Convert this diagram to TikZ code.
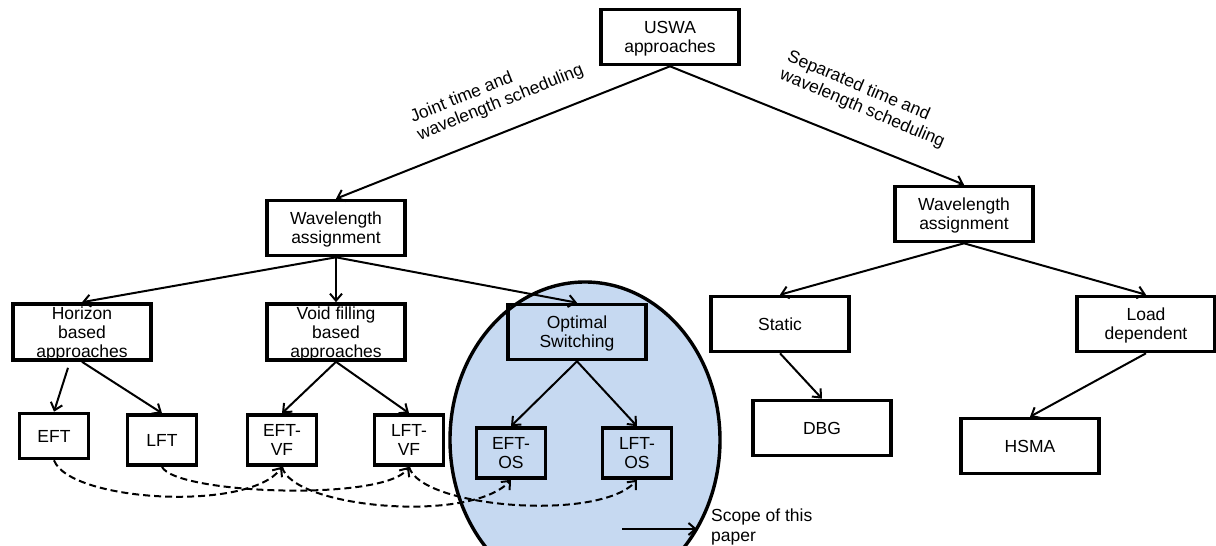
\documentclass[tikz,border=0pt]{standalone}
\usepackage{fontspec}
\setmainfont{Liberation Sans}
\usepackage{tikz}
\usetikzlibrary{arrows.meta,calc}
\definecolor{scopefill}{HTML}{C6D9F1}
\tikzset{
  box/.style={draw, line width=3.6pt, align=center, inner sep=0pt, text depth=0pt, minimum width=138pt, minimum height=55pt},
  sbox/.style={box, minimum width=69pt, minimum height=50pt},
  tribox/.style={box, fill=white, text depth=-2.5pt, minimum height=56pt},
  arr/.style={line width=2pt, -{Straight Barb[length=7pt,width=12pt]}},
  darr/.style={arr, dash pattern=on 7pt off 4pt},
  lab/.style={align=left, inner sep=0pt},
  every node/.style={font=\fontsize{17.5}{19.2}\selectfont}
}
\begin{document}
\begin{tikzpicture}[x=1pt,y=-1pt]
  \useasboundingbox (0,0) rectangle (1216,546);

  % scope of the paper
  \draw[fill=scopefill, line width=3.4pt] (585,440) ellipse [x radius=135, y radius=158];

  \node[box, fill=white] (uswa) at (670,37) {USWA\\approaches};
  \node[box, fill=white] (wal) at (336,228) {Wavelength\\assignment};
  \node[box, fill=white] (war) at (964,214) {Wavelength\\assignment};

  \node[tribox] (hor) at (82,332) {Horizon\\based\\approaches};
  \node[tribox] (void) at (336,332) {Void filling\\based\\approaches};
  \node[box] (opt) at (577,332) {Optimal\\Switching};
  \node[box, fill=white] (stat) at (780,324) {Static};
  \node[box, fill=white] (load) at (1146,324) {Load\\dependent};

  \node[box, fill=white] (dbg) at (822,428) {DBG};
  \node[box, fill=white] (hsma) at (1030,446) {HSMA};

  \node[sbox, fill=white, minimum height=45pt] (eft) at (54,436) {EFT};
  \node[sbox, fill=white] (lft) at (162,440) {LFT};
  \node[sbox, fill=white] (efvf) at (282,440) {EFT-\\VF};
  \node[sbox, fill=white] (lfvf) at (409,440) {LFT-\\VF};
  \node[sbox] (efos) at (511,453) {EFT-\\OS};
  \node[sbox] (lfos) at (637,453) {LFT-\\OS};

  \node[lab, rotate=22] (joint) at (497,94) {Joint time and\\wavelength scheduling};
  \node[lab, rotate=-23] (sep) at (866,100) {Separated time and\\wavelength scheduling};

  \draw[arr] (uswa.south) -- (wal.north);
  \draw[arr] (uswa.south) -- (war.north);
  \draw[arr] (wal.south) -- (hor.north);
  \draw[arr] (wal.south) -- (void.north);
  \draw[arr] (wal.south) -- (opt.north);
  \draw[arr] (war.south) -- (stat.north);
  \draw[arr] (war.south) -- (load.north);
  \draw[arr] (stat.south) -- (dbg.north);
  \draw[arr] (load.south) -- (hsma.north);
  \draw[arr] ([xshift=-14pt,yshift=-6pt]hor.south) -- (eft.north);
  \draw[arr] (hor.south) -- (lft.north);
  \draw[arr] (void.south) -- (efvf.north);
  \draw[arr] (void.south) -- (lfvf.north);
  \draw[arr] (opt.south) -- (efos.north);
  \draw[arr] (opt.south) -- (lfos.north);

  % dashed links between the variants
  \draw[darr] (eft.south) .. controls (70,502) and (250,512) .. (efvf.south);
  \draw[darr] (lft.south) .. controls (175,494) and (385,502) .. (lfvf.south);
  \draw[darr] (efvf.south) .. controls (292,508) and (470,524) .. (efos.south);
  \draw[darr] (lfvf.south) .. controls (420,508) and (600,522) .. (lfos.south);

  \node[lab, anchor=north west] (scope) at (711,509) {Scope of this\\paper};
  \coordinate (sc) at (622,529);
  \draw[arr] (sc) -- ($(sc -| scope.west)+(-14,0)$);
\end{tikzpicture}
\end{document}
